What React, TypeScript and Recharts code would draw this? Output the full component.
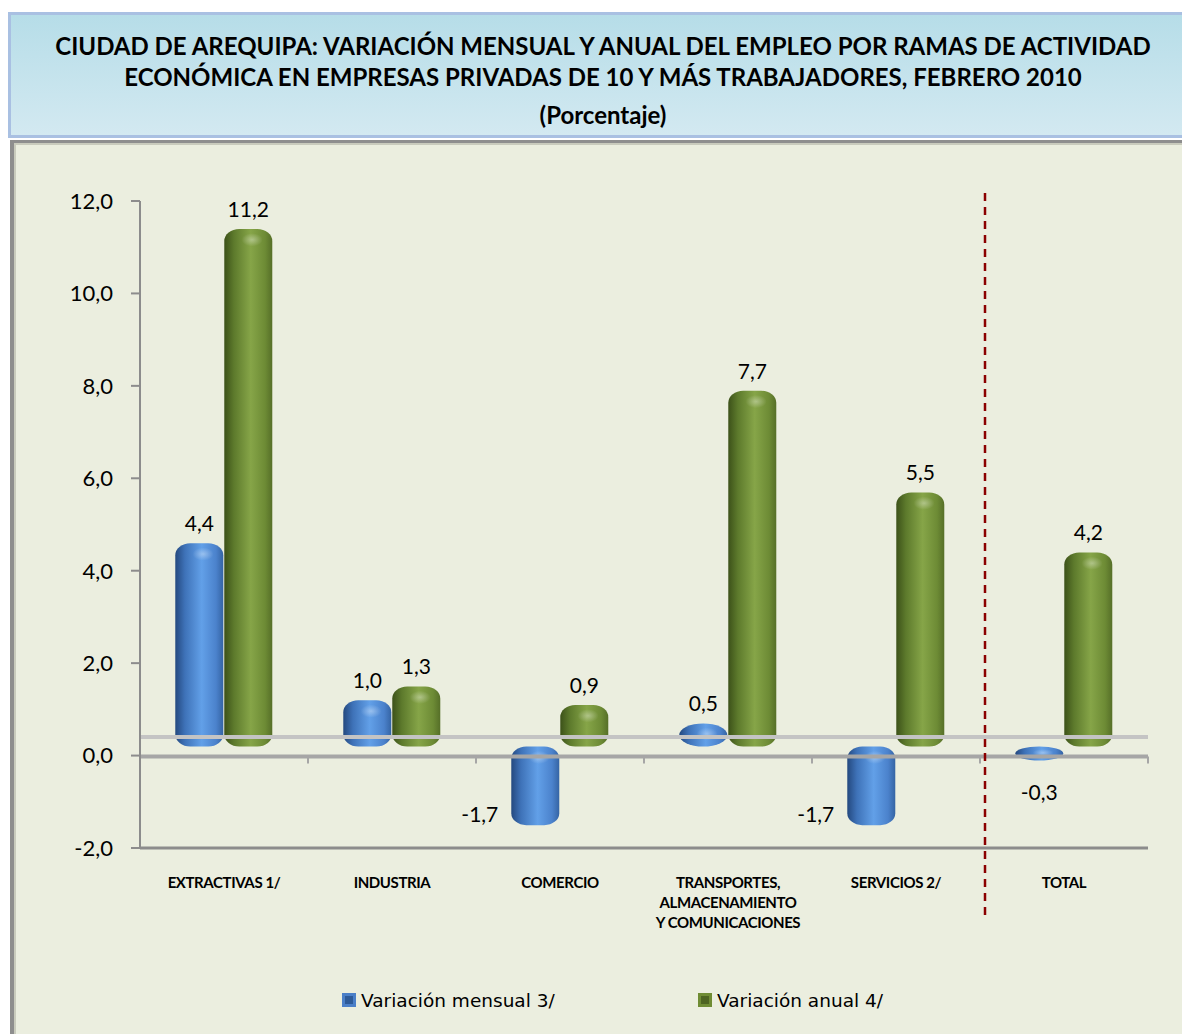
import { BarChart, Bar, XAxis, YAxis, Legend, ReferenceLine, LabelList } from 'recharts';

const categories = [
  'EXTRACTIVAS 1/',
  'INDUSTRIA',
  'COMERCIO',
  'TRANSPORTES,\nALMACENAMIENTO\nY COMUNICACIONES',
  'SERVICIOS 2/',
  'TOTAL',
];
const mensual = [4.4, 1.0, -1.7, 0.5, -1.7, -0.3];
const anual = [11.2, 1.3, 0.9, 7.7, 5.5, 4.2];
const yTicks = [-2, 0, 2, 4, 6, 8, 10, 12];
const seriesNames = ['Variación mensual 3/', 'Variación anual 4/'];
const titleLines = [
  'CIUDAD DE AREQUIPA: VARIACIÓN MENSUAL Y ANUAL DEL EMPLEO POR RAMAS DE ACTIVIDAD',
  'ECONÓMICA EN EMPRESAS PRIVADAS DE 10 Y MÁS TRABAJADORES, FEBRERO 2010',
  '(Porcentaje)',
];

const data = categories.map((name, i) => ({ name, mensual: mensual[i], anual: anual[i] }));

const LIFT = 9; // fake 3d offset of the excel cylinders
const fmt = (v: number) => v.toFixed(1).replace('.', ',');

const Cylinder = (props: any) => {
  const { x, width, gid } = props;
  const h = Math.abs(props.height);
  const top = Math.min(props.y, props.y + props.height) - LIFT;
  const ry = Math.min(12, h / 2);
  const rx = h < 30 ? width / 2 : 15;
  return (
    <g>
      <rect x={x} y={top} width={width} height={h} rx={rx} ry={ry} fill={`url(#${gid})`} />
      <ellipse cx={x + width * 0.58} cy={top + ry * 0.9} rx={width * 0.22} ry={ry * 0.55} fill="url(#shine)" />
    </g>
  );
};

const ValueLabel = (props: any) => {
  const { x, y, width, height, value } = props;
  const top = Math.min(y, y + height) - LIFT;
  const bottom = Math.max(y, y + height) - LIFT;
  const st = { fontFamily: 'Lato', fontSize: 21, fill: '#000' };
  if (value >= 0)
    return <text x={x + width / 2} y={top - 12} textAnchor="middle" {...st}>{fmt(value)}</text>;
  if (Math.abs(height) < 30)
    return <text x={x + width / 2} y={bottom + 40} textAnchor="middle" {...st}>{fmt(value)}</text>;
  return <text x={x - 13} y={bottom - 3} textAnchor="end" {...st}>{fmt(value)}</text>;
};

const CatTick = (props: any) => {
  const { x, y, payload } = props;
  const lines = String(payload.value).split('\n');
  return (
    <g>
      {lines.map((l, i) => (
        <text key={i} x={x} y={y + 38 + i * 20} textAnchor="middle" fontFamily="Lato" fontWeight="bold" fontSize={15} letterSpacing={-0.4} fill="#000">
          {l}
        </text>
      ))}
    </g>
  );
};

const ZeroLine = (props: any) => {
  const { x1, x2, y1 } = props;
  const step = (x2 - x1) / categories.length;
  return (
    <g>
      <line x1={x1} x2={x2} y1={y1 + 1} y2={y1 + 1} stroke="#a6a6a6" strokeWidth={4} />
      {categories.concat(['']).map((_, i) => (
        <line key={i} x1={x1 + i * step} x2={x1 + i * step} y1={y1 + 1} y2={y1 + 8} stroke="#a6a6a6" strokeWidth={2} />
      ))}
    </g>
  );
};

const Divider = (props: any) => {
  const { x1, y1, y2 } = props;
  const top = Math.min(y1, y2);
  const bottom = Math.max(y1, y2);
  return <line x1={x1 + 5} x2={x1 + 5} y1={top - 8} y2={bottom + 67} stroke="#8b0000" strokeWidth={2.5} strokeDasharray="8 6" />;
};

const LegendBox = () => (
  <div style={{ height: 40, display: 'flex', alignItems: 'center', paddingLeft: 332, fontFamily: 'DejaVu Sans', fontSize: 18.5, color: '#000' }}>
    {seriesNames.map((n, i) => (
      <div key={n} style={{ width: 356, display: 'flex', alignItems: 'center' }}>
        <svg width={14} height={14} style={{ marginRight: 5 }}>
          <rect x={0} y={0} width={14} height={14} fill={i === 0 ? '#4a7fc8' : '#6f8c34'} />
          <rect x={3} y={3} width={8} height={8} fill={i === 0 ? '#2d5a98' : '#4d6421'} />
        </svg>
        {n}
      </div>
    ))}
  </div>
);

export default function App() {
  return (
    <div style={{ position: 'fixed', left: 0, top: 0, width: 1182, height: 1034, overflow: 'hidden', background: '#fff' }}>
      <div
        style={{
          position: 'absolute', left: 8, top: 12, width: 1190, height: 126, boxSizing: 'border-box',
          border: '3px solid #a9c0e2', background: 'linear-gradient(#b6dde8, #d3e9f1)',
        }}
      />
      {titleLines.map((t, i) => (
        <div
          key={i}
          style={{
            position: 'absolute', left: 8, width: 1190, top: [46, 77, 115][i] - 15, height: 30, lineHeight: '30px',
            textAlign: 'center', fontFamily: 'Lato', fontWeight: 'bold', fontSize: 24, color: '#000', whiteSpace: 'nowrap',
          }}
        >
          {t}
        </div>
      ))}
      <div
        style={{
          position: 'absolute', left: 10, top: 140, width: 1190, height: 900, boxSizing: 'border-box',
          borderLeft: '4px solid #8e8e8e', borderTop: '3px solid #8e8e8e', background: '#ebeedf',
          boxShadow: 'inset 2px 2px 0 #c9cbbd',
        }}
      />
      <div style={{ position: 'absolute', left: 10, top: 140 }}>
        <BarChart width={1172} height={894} data={data} margin={{ top: 61, right: 34, left: 0, bottom: 14 }} barCategoryGap="21%" barGap={1}>
          <defs>
            <linearGradient id="gBlue" x1="0" y1="0" x2="1" y2="0">
              <stop offset="0" stopColor="#24497f" />
              <stop offset="0.2" stopColor="#3e72b8" />
              <stop offset="0.55" stopColor="#62a0e8" />
              <stop offset="0.85" stopColor="#4b82cc" />
              <stop offset="1" stopColor="#3564a4" />
            </linearGradient>
            <linearGradient id="gGreen" x1="0" y1="0" x2="1" y2="0">
              <stop offset="0" stopColor="#3c5119" />
              <stop offset="0.2" stopColor="#5d7a2c" />
              <stop offset="0.55" stopColor="#86a548" />
              <stop offset="0.85" stopColor="#6d8b35" />
              <stop offset="1" stopColor="#566f28" />
            </linearGradient>
            <radialGradient id="shine">
              <stop offset="0" stopColor="#fff" stopOpacity={0.35} />
              <stop offset="1" stopColor="#fff" stopOpacity={0} />
            </radialGradient>
          </defs>
          <XAxis dataKey="name" height={132} axisLine={{ stroke: '#8c8c8c', strokeWidth: 3 }} tickLine={false} tickSize={0} tick={<CatTick />} interval={0} />
          <YAxis
            width={130}
            domain={[-2, 12]}
            ticks={yTicks}
            tickFormatter={fmt}
            tick={{ fill: '#000', fontSize: 22, fontFamily: 'Lato' }}
            axisLine={{ stroke: '#8c8c8c', strokeWidth: 2 }}
            tickLine={{ stroke: '#8c8c8c', strokeWidth: 2 }}
            tickSize={9}
            tickMargin={18}
          />
          <ReferenceLine y={0.4} stroke="#c4c4c4" strokeWidth={4} />
          <Bar dataKey="mensual" name={seriesNames[0]} fill="#4a7fc8" isAnimationActive={false} shape={<Cylinder gid="gBlue" />}>
            <LabelList dataKey="mensual" content={<ValueLabel />} />
          </Bar>
          <Bar dataKey="anual" name={seriesNames[1]} fill="#6f8c34" isAnimationActive={false} shape={<Cylinder gid="gGreen" />}>
            <LabelList dataKey="anual" content={<ValueLabel />} />
          </Bar>
          <ReferenceLine y={0} shape={<ZeroLine />} />
          <ReferenceLine x="TOTAL" position="start" shape={<Divider />} />
          <Legend verticalAlign="bottom" height={40} wrapperStyle={{ left: 0, width: 1172 }} content={<LegendBox />} />
        </BarChart>
      </div>
    </div>
  );
}
